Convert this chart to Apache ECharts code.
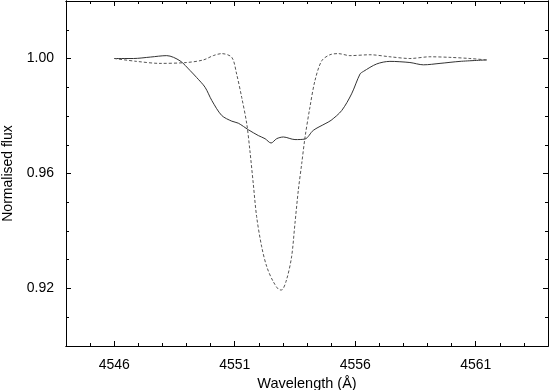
<!DOCTYPE html>
<html>
<head>
<meta charset="utf-8">
<script src="https://cdn.jsdelivr.net/npm/echarts@6/dist/echarts.min.js"></script>
<style>
  html, body { margin: 0; padding: 0; background: #fff; }
  #chart { width: 549px; height: 390px; }
</style>
</head>
<body>
<div id="chart"></div>
<script>
// solid profile
const solidWave = [4546.0, 4546.8, 4547.5, 4548.18, 4548.73, 4549.15, 4549.42, 4549.77, 4550.05, 4550.46,
  4550.88, 4551.15, 4551.57, 4551.98, 4552.26, 4552.51, 4552.74, 4553.02, 4553.5, 4553.92,
  4554.26, 4554.75, 4555.0, 4555.44, 4555.85, 4556.2, 4556.34, 4556.89, 4557.44, 4558.27,
  4558.83, 4559.52, 4560.35, 4561.46]
const solidFlux = [1.0000, 1.0000, 1.0005, 1.0010, 0.9992, 0.9958, 0.9934, 0.9900, 0.9854, 0.9802,
  0.9782, 0.9775, 0.9752, 0.9732, 0.9721, 0.9706, 0.9721, 0.9727, 0.9718, 0.9720,
  0.9750, 0.9773, 0.9785, 0.9819, 0.9877, 0.9946, 0.9955, 0.9981, 0.9990, 0.9986,
  0.9978, 0.9983, 0.9990, 0.9995]

// dashed profile
const dashWave = [4546.0, 4546.93, 4547.9, 4549.0, 4549.7, 4550.11, 4550.46, 4550.88, 4551.08, 4551.29,
  4551.5, 4551.63, 4551.77, 4551.91, 4552.12, 4552.33, 4552.6, 4552.88, 4552.95, 4553.15,
  4553.36, 4553.5, 4553.64, 4553.78, 4553.92, 4554.12, 4554.33, 4554.61, 4554.95, 4555.3,
  4555.78, 4556.61, 4557.44, 4558.27, 4559.1, 4559.93, 4560.76, 4561.46]
const dashFlux = [1.0000, 0.9990, 0.9983, 0.9986, 0.9995, 1.0010, 1.0017, 1.0004, 0.9946, 0.9865,
  0.9773, 0.9680, 0.9565, 0.9450, 0.9345, 0.9276, 0.9224, 0.9195, 0.9195, 0.9230,
  0.9310, 0.9426, 0.9542, 0.9634, 0.9727, 0.9830, 0.9923, 0.9992, 1.0013, 1.0017,
  1.0010, 1.0013, 1.0006, 1.0000, 1.0006, 1.0004, 1.0000, 0.9995]

const xMajor = [4546, 4551, 4556, 4561]
const xMinor = [4545, 4547, 4548, 4549, 4550, 4552, 4553, 4554, 4555, 4557, 4558, 4559, 4560, 4562, 4563]
const yMajor = [0.92, 0.96, 1.00]
const yMinor = [0.91, 0.93, 0.94, 0.95, 0.97, 0.98, 0.99, 1.01]

const font = 'Liberation Sans'
const black = '#000'

function xAx(pos, ticks, len, labels, extra) {
  return Object.assign({
    type: 'value', position: pos, min: 4544, max: 4564,
    axisLine: { show: true, onZero: false, lineStyle: { color: black, width: 1 } },
    axisTick: { show: true, inside: true, length: len, customValues: ticks, lineStyle: { color: black } },
    axisLabel: labels ? { show: true, customValues: ticks, margin: 12, color: black, fontFamily: font, fontSize: 14,
      formatter: v => String(v) } : { show: false },
    splitLine: { show: false }
  }, extra || {})
}
function yAx(pos, ticks, len, labels, extra) {
  return Object.assign({
    type: 'value', position: pos, min: 0.90, max: 1.02,
    axisLine: { show: true, onZero: false, lineStyle: { color: black, width: 1 } },
    axisTick: { show: true, inside: true, length: len, customValues: ticks, lineStyle: { color: black } },
    axisLabel: labels ? { show: true, customValues: ticks, margin: 12, color: black, fontFamily: font, fontSize: 14,
      formatter: v => v.toFixed(2) } : { show: false },
    splitLine: { show: false }
  }, extra || {})
}

const chart = echarts.init(document.getElementById('chart'), null, { renderer: 'canvas' })
chart.setOption({
  animation: false,
  backgroundColor: '#fff',
  grid: { left: 66, right: 1, top: 1, bottom: 44, containLabel: false, outerBoundsMode: 'none' },
  xAxis: [
    xAx('bottom', xMajor, 5, true, {
      name: 'Wavelength (Å)', nameLocation: 'middle', nameGap: 30,
      nameTextStyle: { color: black, fontFamily: font, fontSize: 14.5 }
    }),
    xAx('bottom', xMinor, 3, false),
    xAx('top', xMajor, 5, false),
    xAx('top', xMinor, 3, false)
  ],
  yAxis: [
    yAx('left', yMajor, 5, true, {
      name: 'Normalised flux', nameLocation: 'middle', nameGap: 51,
      nameTextStyle: { color: black, fontFamily: font, fontSize: 14 }
    }),
    yAx('left', yMinor, 3, false),
    yAx('right', yMajor, 5, false),
    yAx('right', yMinor, 3, false)
  ],
  series: [
    {
      name: 'solid', type: 'line', xAxisIndex: 0, yAxisIndex: 0,
      data: solidWave.map((w, i) => [w, solidFlux[i]]),
      showSymbol: false, smooth: 0.3,
      lineStyle: { color: '#333', width: 1 }
    },
    {
      name: 'dashed', type: 'line', xAxisIndex: 0, yAxisIndex: 0,
      data: dashWave.map((w, i) => [w, dashFlux[i]]),
      showSymbol: false, smooth: 0.3,
      lineStyle: { color: '#555', width: 1, type: [3, 2] }
    }
  ]
})
</script>
</body>
</html>
